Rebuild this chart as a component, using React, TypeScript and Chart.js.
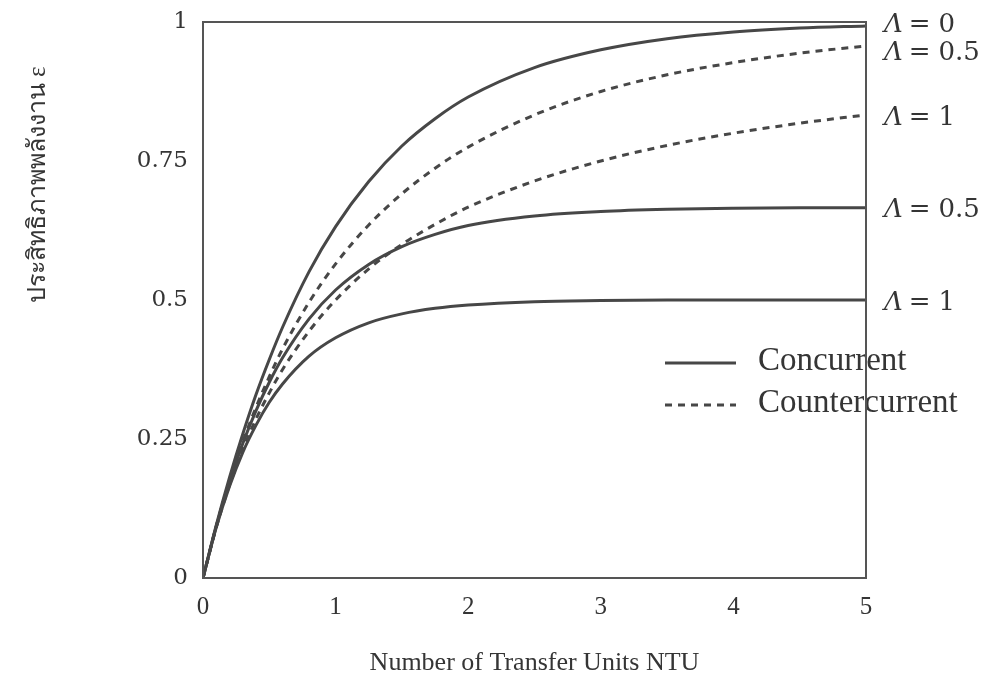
import React, { useEffect, useRef } from "react";
import { Chart, registerables } from "chart.js";

Chart.register(...registerables);

// Number of transfer units (x axis samples)
const NTU = [0, 0.1, 0.2, 0.3, 0.4, 0.5, 0.6, 0.8, 1, 1.25, 1.5, 1.75, 2, 2.5, 3, 3.5, 4, 4.5, 5];

// Effectiveness, concurrent (parallel) flow
const CONCURRENT_L0 = [0, 0.095, 0.181, 0.259, 0.33, 0.393, 0.451, 0.551, 0.632, 0.713, 0.777, 0.826, 0.865, 0.918, 0.95, 0.97, 0.982, 0.989, 0.993];
const CONCURRENT_L05 = [0, 0.093, 0.173, 0.242, 0.301, 0.352, 0.396, 0.466, 0.518, 0.564, 0.596, 0.618, 0.634, 0.651, 0.659, 0.663, 0.665, 0.666, 0.666];
const CONCURRENT_L1 = [0, 0.091, 0.165, 0.226, 0.275, 0.316, 0.349, 0.399, 0.432, 0.459, 0.475, 0.485, 0.491, 0.497, 0.499, 0.5, 0.5, 0.5, 0.5];

// Effectiveness, countercurrent flow
const COUNTER_L05 = [0, 0.093, 0.174, 0.245, 0.307, 0.362, 0.412, 0.496, 0.565, 0.635, 0.691, 0.737, 0.775, 0.833, 0.875, 0.905, 0.927, 0.944, 0.957];
const COUNTER_L1 = [0, 0.091, 0.167, 0.231, 0.286, 0.333, 0.375, 0.444, 0.5, 0.556, 0.6, 0.636, 0.667, 0.714, 0.75, 0.778, 0.8, 0.818, 0.833];

// Capacity ratio label for each curve, shown at its right end
const LAMBDA_VALUES = ["0", "0.5", "1", "0.5", "1"];
const LABEL_NUDGE = [-1, 7, 3, 3, 3];

const X_TICKS = [0, 1, 2, 3, 4, 5];
const Y_TICKS = [0, 0.25, 0.5, 0.75, 1];

const X_TITLE = "Number of Transfer Units NTU";
const Y_TITLE = "ประสิทธิภาพพลังงาน ε";
const LEGEND_SOLID = "Concurrent";
const LEGEND_DASHED = "Countercurrent";

const INK = "#353535";
const LINE = "#474747";
const SERIF = "'Liberation Serif', serif";
const WIDE_SERIF = "'DejaVu Serif', serif";

const toPoints = (ys: number[]) => ys.map((y, i) => ({ x: NTU[i], y }));

const decorations = {
  id: "decorations",
  afterDatasetsDraw(chart: any) {
    const { ctx, chartArea: a, scales } = chart;
    const ys = scales.y;
    ctx.save();

    // legend (drawn before the frame so the border runs over it)
    ctx.strokeStyle = LINE;
    ctx.lineWidth = 3;
    ctx.beginPath();
    ctx.moveTo(665, 363);
    ctx.lineTo(736, 363);
    ctx.stroke();
    ctx.setLineDash([7, 6]);
    ctx.beginPath();
    ctx.moveTo(665, 405);
    ctx.lineTo(736, 405);
    ctx.stroke();
    ctx.setLineDash([]);
    ctx.fillStyle = INK;
    ctx.font = `33px ${SERIF}`;
    ctx.textBaseline = "middle";
    ctx.textAlign = "left";
    ctx.fillText(LEGEND_SOLID, 758, 361);
    ctx.fillText(LEGEND_DASHED, 758, 403);

    // plot frame
    ctx.strokeStyle = "#555";
    ctx.lineWidth = 2;
    ctx.strokeRect(a.left, a.top, a.right - a.left, a.bottom - a.top);

    // Λ labels at the right end of each curve
    chart.data.datasets.forEach((ds: any, i: number) => {
      const last = ds.data[ds.data.length - 1].y;
      const y = ys.getPixelForValue(last) + LABEL_NUDGE[i];
      let x = a.right + 18;
      ctx.font = `italic 26px ${WIDE_SERIF}`;
      ctx.fillText("Λ", x, y);
      x += ctx.measureText("Λ").width + 6;
      ctx.font = `26px ${WIDE_SERIF}`;
      ctx.fillText("=", x, y);
      x += ctx.measureText("=").width + 8;
      ctx.fillText(LAMBDA_VALUES[i], x, y);
    });

    // axis titles
    ctx.font = `26px ${SERIF}`;
    ctx.textAlign = "center";
    ctx.fillText(X_TITLE, (a.left + a.right) / 2, a.bottom + 85);
    ctx.font = `25px ${SERIF}`;
    ctx.translate(38, 185);
    ctx.rotate(-Math.PI / 2);
    ctx.fillText(Y_TITLE, 0, 0);
    ctx.restore();
  },
};

export default function App() {
  const ref = useRef<HTMLCanvasElement>(null);

  useEffect(() => {
    if (!ref.current) return;
    const solid = (data: number[], label: string) => ({
      label,
      data: toPoints(data),
      borderColor: LINE,
      borderWidth: 3,
      pointRadius: 0,
      cubicInterpolationMode: "monotone" as const,
      fill: false,
    });
    const dashed = (data: number[], label: string) => ({
      ...solid(data, label),
      borderDash: [7, 6],
    });

    const chart = new Chart(ref.current, {
      type: "line",
      data: {
        datasets: [
          solid(CONCURRENT_L0, "Concurrent Λ=0"),
          dashed(COUNTER_L05, "Countercurrent Λ=0.5"),
          dashed(COUNTER_L1, "Countercurrent Λ=1"),
          solid(CONCURRENT_L05, "Concurrent Λ=0.5"),
          solid(CONCURRENT_L1, "Concurrent Λ=1"),
        ],
      },
      options: {
        animation: false,
        responsive: false,
        layout: { padding: { left: 0, top: 22, right: 129, bottom: 0 } },
        plugins: { legend: { display: false }, tooltip: { enabled: false } },
        scales: {
          x: {
            type: "linear",
            min: 0,
            max: 5,
            afterFit: (s: any) => {
              s.height = 104;
              s.paddingLeft = 0;
              s.paddingRight = 0;
            },
            afterBuildTicks: (s: any) => {
              s.ticks = X_TICKS.map((v) => ({ value: v }));
            },
            grid: { display: false, drawTicks: false },
            border: { display: false },
            ticks: {
              padding: 14,
              color: INK,
              font: { family: SERIF, size: 25 },
              maxRotation: 0,
            },
          },
          y: {
            type: "linear",
            min: 0,
            max: 1,
            afterFit: (s: any) => {
              s.width = 203;
              s.paddingTop = 0;
              s.paddingBottom = 0;
            },
            afterBuildTicks: (s: any) => {
              s.ticks = Y_TICKS.map((v) => ({ value: v }));
            },
            grid: { display: false, drawTicks: false },
            border: { display: false },
            ticks: {
              padding: 15,
              color: INK,
              font: { family: WIDE_SERIF, size: 23 },
              callback: (v: any) => String(v),
            },
          },
        },
      },
      plugins: [decorations],
    });
    return () => chart.destroy();
  }, []);

  return (
    <div style={{ position: "fixed", left: 0, top: 0, width: 995, height: 682, background: "#fff" }}>
      <canvas ref={ref} width={995} height={682} />
    </div>
  );
}
